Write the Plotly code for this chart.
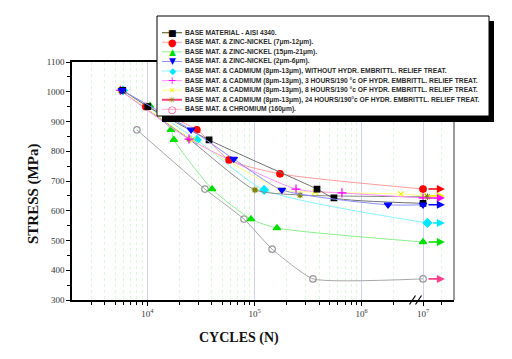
import math
import plotly.graph_objects as go

# ---------------- data (cycles N, stress MPa) ----------------
base_N = [5900, 10100, 37700, 383000, 551000, 1e7]
base_S = [1005, 950, 838, 673, 643, 625]
znni7_N = [9700, 29000, 58000, 173000, 1e7]
znni7_S = [950, 872, 771, 724, 673]
znni15_N = [10600, 16600, 17700, 40200, 92700, 162000, 1e7]
znni15_S = [953, 872, 839, 673, 572, 542, 495]
znni2_N = [5800, 25600, 64000, 180000, 1.76e6, 1e7]
znni2_S = [1005, 872, 774, 670, 620, 620]
cdnone_N = [5930, 29000, 123000, 1.1e7]
cdnone_S = [1005, 838, 670, 559]
cd3_N = [5600, 24500, 244000, 654000, 1e7]
cd3_S = [1005, 841, 673, 660, 643]
cd8_N = [5700, 26700, 180000, 367000, 2.33e6, 1e7]
cd8_S = [1005, 838, 670, 663, 656, 650]
cd24_N = [5600, 24500, 101000, 266000, 1.1e7]
cd24_S = [1005, 841, 670, 653, 647]
cr_N = [8000, 34500, 79800, 146000, 351000, 1e7]
cr_S = [872, 673, 572, 471, 371, 371]

legend_labels = [
    "BASE MATERIAL - AISI 4340.",
    "BASE MAT. & ZINC-NICKEL (7μm-12μm).",
    "BASE MAT. & ZINC-NICKEL (15μm-21μm).",
    "BASE MAT. & ZINC-NICKEL (2μm-6μm).",
    "BASE MAT. & CADMIUM (8μm-13μm), WITHOUT HYDR. EMBRITTL. RELIEF TREAT.",
    "BASE MAT. & CADMIUM (8μm-13μm), 3 HOURS/190 °c OF HYDR. EMBRITTL. RELIEF TREAT.",
    "BASE MAT. & CADMIUM (8μm-13μm), 8 HOURS/190 °c OF HYDR. EMBRITTL. RELIEF TREAT.",
    "BASE MAT. & CADMIUM (8μm-13μm), 24 HOURS/190°c OF HYDR. EMBRITTL. RELIEF TREAT.",
    "BASE MAT. & CHROMIUM (160μm).",
]

major_N = [1e4, 1e5, 1e6, 1e7]
major_text = ["10<sup>4</sup>", "10<sup>5</sup>", "10<sup>6</sup>", "10<sup>7</sup>"]
minor_N = ([k * 1e3 for k in range(3, 10)] + [k * 1e4 for k in range(2, 10)] +
           [k * 1e5 for k in range(2, 10)] + [2e6, 1.5e7])
arrow_end_N = 1.6e7

# ---------------- broken log scale ----------------
BREAK_AT = 4e6
SHIFT = 0.428


def u(n):
    lg = math.log10(n)
    return lg - SHIFT if n > BREAK_AT else lg


def U(arr):
    return [u(v) for v in arr]


OFF = 8  # page body margin of the exported html
W, H = 512 - OFF, 359 - OFF
L, R, T, B = 72, 454, 62, 300  # plot area in page pixels


def px(xp):
    return (xp - L) / (R - L)


def py(yp):
    return (B - yp) / (B - T)


fig = go.Figure()

# name, N, S, symbol, marker color, size, line color, arrow color, smoothing
series = [
    ("cr", cr_N, cr_S, "circle-open", "#9a9a9a", 6.5, "#a8a8a8", "#ff3d8b", 0.45),
    ("cdnone", cdnone_N, cdnone_S, "diamond", "#00e8ff", 6.5, "#8af4ff", "#00e8ff", 0.6),
    ("znni15", znni15_N, znni15_S, "triangle-up", "#00e000", 6.5, "#8cf08c", "#00e000", 0.6),
    ("cd24", cd24_N, cd24_S, "asterisk-open", "#808000", 5.5, "#8c8c8c", None, 0.6),
    ("cd8", cd8_N, cd8_S, "x-thin-open", "#f2f200", 5.5, "#ffff80", "#f2f200", 0.6),
    ("cd3", cd3_N, cd3_S, "cross-thin-open", "#ff00ff", 6.5, "#ff90ff", "#ff00ff", 0.6),
    ("znni7", znni7_N, znni7_S, "circle", "#ff0000", 6.5, "#ff9c9c", "#ff0000", 0.6),
    ("base", base_N, base_S, "square", "#000000", 5.5, "#707070", None, 0.6),
    ("znni2", znni2_N, znni2_S, "triangle-down", "#0000ff", 6.5, "#8c8cff", "#0000ff", 0.6),
]

for name, N, S, sym, mc, ms, lc, ac, sm in series:
    mk = dict(symbol=sym, color=mc, size=ms, line=dict(color=mc, width=1.2))
    fig.add_trace(go.Scatter(
        x=U(N), y=S, mode="lines+markers", name=name, showlegend=False,
        line=dict(color=lc, width=1, shape="spline", smoothing=sm),
        marker=mk, hoverinfo="skip"))

annotations = []
for name, N, S, sym, mc, ms, lc, ac, sm in series:
    if ac is None:
        continue
    annotations.append(dict(
        x=u(arrow_end_N), y=S[-1], ax=u(N[-1]), ay=S[-1], xref="x", yref="y",
        axref="x", ayref="y", text="", showarrow=True, arrowhead=2,
        arrowsize=1, arrowwidth=1.6, arrowcolor=ac, startstandoff=4))

shapes = []
# right frame line
shapes.append(dict(type="line", xref="paper", yref="paper", x0=1, x1=1, y0=0, y1=1,
                   line=dict(color="#7a7a7a", width=1.5)))
# axis break marks
for cx in (412.5, 418.5):
    shapes.append(dict(type="line", xref="paper", yref="paper",
                       x0=px(cx - 3), x1=px(cx + 3), y0=py(304.5), y1=py(295.5),
                       line=dict(color="black", width=1.2)))

# legend box with shadow
shapes.append(dict(type="rect", xref="paper", yref="paper", layer="above",
                   x0=px(162), x1=px(494), y0=py(122), y1=py(21),
                   fillcolor="black", line=dict(width=0)))
shapes.append(dict(type="rect", xref="paper", yref="paper", layer="above",
                   x0=px(157), x1=px(489), y0=py(116), y1=py(16),
                   fillcolor="white", line=dict(color="black", width=1)))

leg_line = ["#666633", "#ff9c9c", "#8cf08c", "#8c8cff", "#8af4ff", "#ff90ff", "#ffff80", "#ff3d6e", "#ffaac8"]
leg_glyph = ["■", "●", "▲", "▼", "◆", "+", "✕", "✳", "○"]
leg_gcol = ["#000000", "#ff0000", "#00e000", "#0000ff", "#00e8ff", "#ff00ff", "#f2f200", "#808000", "#ff3d8b"]
leg_gsize = [9, 10, 9, 9, 9, 10, 8, 9, 10]
leg_lw = [1.2, 1, 1, 1, 1, 1, 1, 2, 1]

for i, lab in enumerate(legend_labels):
    yy = 32.7 + 9.58 * i
    shapes.append(dict(type="line", xref="paper", yref="paper", layer="above",
                       x0=px(162), x1=px(182), y0=py(yy), y1=py(yy),
                       line=dict(color=leg_line[i], width=leg_lw[i])))
    annotations.append(dict(x=px(172), y=py(yy), xref="paper", yref="paper",
                            text=leg_glyph[i], showarrow=False, xanchor="center", yanchor="middle",
                            font=dict(family="DejaVu Sans", size=leg_gsize[i], color=leg_gcol[i])))
    annotations.append(dict(x=px(183), y=py(yy), xref="paper", yref="paper",
                            text="<b>" + lab + "</b>", showarrow=False, xanchor="left", yanchor="middle",
                            font=dict(family="Liberation Sans", size=6.7, color="#2a2a2a")))

# axis titles
annotations.append(dict(x=px(239), y=py(338), xref="paper", yref="paper", text="<b>CYCLES (N)</b>",
                        showarrow=False, xanchor="center", yanchor="middle",
                        font=dict(family="Liberation Serif", size=14, color="#111")))
annotations.append(dict(x=px(33), y=py(194), xref="paper", yref="paper", text="<b>STRESS (MPa)</b>",
                        showarrow=False, xanchor="center", yanchor="middle", textangle=-90,
                        font=dict(family="Liberation Serif", size=15, color="#111")))

fig.update_layout(
    width=W, height=H,
    margin=dict(l=L - OFF, r=W - (R - OFF), t=T - OFF, b=H - (B - OFF)),
    paper_bgcolor="white", plot_bgcolor="white", showlegend=False,
    shapes=shapes, annotations=annotations,
    xaxis=dict(
        range=[u(1e4) - (147.3 - L) / 107.2, 6.861], tickmode="array",
        tickvals=U(major_N), ticktext=major_text, ticks="outside", ticklen=4, tickwidth=1,
        tickcolor="black", showline=True, linecolor="black", linewidth=1.5, mirror=True,
        showgrid=True, gridcolor="#cfcff8", gridwidth=1, zeroline=False,
        tickfont=dict(family="Liberation Serif", size=9, color="#333"),
        minor=dict(tickvals=U(minor_N), ticks="outside", ticklen=3, tickcolor="black",
                   showgrid=True, gridcolor="#dcf7dc", griddash="dot", gridwidth=1),
    ),
    yaxis=dict(
        range=[300, 1100], tickmode="linear", tick0=300, dtick=100, ticks="outside",
        ticklen=4, tickwidth=1, tickcolor="black", showline=True, linecolor="black",
        linewidth=1.5, showgrid=False, zeroline=False,
        tickfont=dict(family="Liberation Serif", size=9, color="#333"),
        minor=dict(dtick=50, ticks="outside", ticklen=3, tickcolor="black", showgrid=False),
    ),
)

fig.write_html("out.html")
